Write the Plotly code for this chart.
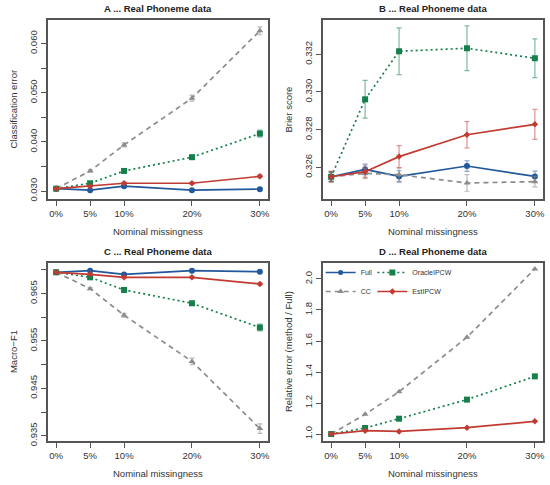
import plotly.graph_objects as go
from plotly.subplots import make_subplots

# nominal missingness levels (%)
miss = [0, 5, 10, 20, 30]
miss_labels = ["0%", "5%", "10%", "20%", "30%"]

methods = ["Full", "CC", "OracleIPCW", "EstIPCW"]

# A: classification error
err_full = [0.0305, 0.0302, 0.0310, 0.0302, 0.0304]
err_cc = [0.0305, 0.0341, 0.0394, 0.0489, 0.0626]
err_oracle = [0.0305, 0.0316, 0.0341, 0.0369, 0.0417]
err_est = [0.0305, 0.0310, 0.0316, 0.0316, 0.0330]
err_full_se = [0.0001, 0.0001, 0.0002, 0.0001, 0.0002]
err_cc_se = [0.0001, 0.0002, 0.0004, 0.0006, 0.0008]
err_oracle_se = [0.0001, 0.0002, 0.0003, 0.0004, 0.0007]
err_est_se = [0.0001, 0.0001, 0.0002, 0.0002, 0.0003]

# B: Brier score
bri_full = [0.32550, 0.32589, 0.32552, 0.32607, 0.32552]
bri_cc = [0.32550, 0.32568, 0.32561, 0.32517, 0.32524]
bri_oracle = [0.32550, 0.32961, 0.33216, 0.33232, 0.33179]
bri_est = [0.32550, 0.32577, 0.32657, 0.32773, 0.32828]
bri_full_se = [0.00025, 0.00028, 0.00030, 0.00028, 0.00028]
bri_cc_se = [0.00025, 0.00028, 0.00035, 0.00044, 0.00028]
bri_oracle_se = [0.00025, 0.00100, 0.00124, 0.00119, 0.00103]
bri_est_se = [0.00030, 0.00030, 0.00058, 0.00070, 0.00080]

# C: Macro-F1
f1_full = [0.96949, 0.96984, 0.96906, 0.96984, 0.96963]
f1_cc = [0.96950, 0.96605, 0.96044, 0.95068, 0.93651]
f1_oracle = [0.96950, 0.96844, 0.96577, 0.96296, 0.95784]
f1_est = [0.96950, 0.96907, 0.96844, 0.96844, 0.96704]
f1_full_se = [0.0001, 0.0001, 0.0001, 0.0001, 0.0001]
f1_cc_se = [0.0001, 0.0002, 0.0004, 0.0007, 0.0010]
f1_oracle_se = [0.0001, 0.0001, 0.0002, 0.0004, 0.0007]
f1_est_se = [0.0001, 0.0001, 0.0001, 0.0001, 0.0002]

# D: relative error (method / Full)
rel_cc = [1.000, 1.127, 1.273, 1.624, 2.065]
rel_oracle = [1.000, 1.039, 1.099, 1.222, 1.372]
rel_est = [1.000, 1.022, 1.017, 1.041, 1.082]
rel_ref = 1.0

colors = {"Full": "#22589c", "CC": "#8c8c8c", "OracleIPCW": "#16804c", "EstIPCW": "#c23b32"}
err_colors = {"Full": "rgba(34,88,156,0.55)", "CC": "rgba(140,140,140,0.6)",
              "OracleIPCW": "rgba(22,128,76,0.55)", "EstIPCW": "rgba(194,59,50,0.55)"}
dashes = {"Full": "solid", "CC": "5px,4px", "OracleIPCW": "2px,3px", "EstIPCW": "solid"}
symbols = {"Full": "circle", "CC": "triangle-up", "OracleIPCW": "square", "EstIPCW": "diamond"}
msizes = {"Full": 6, "CC": 6, "OracleIPCW": 6, "EstIPCW": 5}

FONT = "Liberation Sans, Arial, sans-serif"

fig = make_subplots(rows=2, cols=2, horizontal_spacing=0.1, vertical_spacing=0.13)


def add_series(name, y, se, row, col, legend=None):
    fig.add_trace(go.Scatter(
        x=miss, y=y, mode="lines+markers", name=name,
        line=dict(color=colors[name], width=1.7, dash=dashes[name]),
        marker=dict(color=colors[name], symbol=symbols[name], size=msizes[name]),
        error_y=dict(type="data", array=se, visible=se is not None, color=err_colors[name],
                     thickness=1.2, width=2.5),
        showlegend=legend is not None, legend=legend or "legend",
    ), row=row, col=col)


add_series("Full", err_full, err_full_se, 1, 1)
add_series("CC", err_cc, err_cc_se, 1, 1)
add_series("OracleIPCW", err_oracle, err_oracle_se, 1, 1)
add_series("EstIPCW", err_est, err_est_se, 1, 1)

add_series("Full", bri_full, bri_full_se, 1, 2)
add_series("CC", bri_cc, bri_cc_se, 1, 2)
add_series("OracleIPCW", bri_oracle, bri_oracle_se, 1, 2)
add_series("EstIPCW", bri_est, bri_est_se, 1, 2)

add_series("Full", f1_full, f1_full_se, 2, 1)
add_series("CC", f1_cc, f1_cc_se, 2, 1)
add_series("OracleIPCW", f1_oracle, f1_oracle_se, 2, 1)
add_series("EstIPCW", f1_est, f1_est_se, 2, 1)

fig.add_hline(y=rel_ref, line=dict(color="#a0a0a0", width=1.5, dash="2px,3px"), row=2, col=2)
# legend-only entry for Full in panel D
fig.add_trace(go.Scatter(x=[None], y=[None], mode="lines+markers", name="Full",
                         line=dict(color=colors["Full"], width=1.6),
                         marker=dict(color=colors["Full"], symbol="circle", size=5),
                         legend="legend"), row=2, col=2)
add_series("CC", rel_cc, None, 2, 2, legend="legend")
add_series("OracleIPCW", rel_oracle, None, 2, 2, legend="legend2")
add_series("EstIPCW", rel_est, None, 2, 2, legend="legend2")

# panel placement (paper fractions)
xdom = {1: [0.0873, 0.4873], 2: [0.5873, 0.9873]}
ydom = {1: [0.5897, 0.9588], 2: [0.0907, 0.4577]}

yaxes = {
    (1, 1): dict(range=[0.0284, 0.0648], tickvals=[0.030, 0.035, 0.040, 0.045, 0.050, 0.055, 0.060],
                 ticktext=["0.030", "", "0.040", "", "0.050", "", "0.060"]),
    (1, 2): dict(range=[0.32432, 0.33382], tickvals=[0.326, 0.328, 0.330, 0.332],
                 ticktext=["0.326", "0.328", "0.330", "0.332"]),
    (2, 1): dict(range=[0.93388, 0.97146], tickvals=[0.935, 0.940, 0.945, 0.950, 0.955, 0.960, 0.965, 0.970],
                 ticktext=["0.935", "", "0.945", "", "0.955", "", "0.965", ""]),
    (2, 2): dict(range=[0.955, 2.103], tickvals=[1.0, 1.2, 1.4, 1.6, 1.8, 2.0],
                 ticktext=["1.0", "1.2", "1.4", "1.6", "1.8", "2.0"]),
}

axis_style = dict(showline=True, linecolor="#555555", linewidth=1.5, mirror=True, ticks="outside",
                  ticklen=5, tickcolor="#555555", tickwidth=1, showgrid=False, zeroline=False,
                  tickfont=dict(size=9.5, color="#333333", family=FONT))

for (r, c), ya in yaxes.items():
    fig.update_xaxes(domain=xdom[c], range=[-1.2, 31.2], tickvals=miss, ticktext=miss_labels,
                     tickangle=0, row=r, col=c, **axis_style)
    fig.update_yaxes(domain=ydom[r], tickangle=-90, row=r, col=c, **axis_style, **ya)

titles = ["A ... Real Phoneme data", "B ... Real Phoneme data",
          "C ... Real Phoneme data", "D ... Real Phoneme data"]
ylabels = ["Classification error", "Brier score", "Macro\u2212F1", "Relative error (method / Full)"]
ann = []
for i, (r, c) in enumerate([(1, 1), (1, 2), (2, 1), (2, 2)]):
    xc = sum(xdom[c]) / 2
    common = dict(xref="paper", yref="paper", xanchor="center", yanchor="middle", showarrow=False)
    ann.append(dict(text="<b>" + titles[i] + "</b>", x=xc, y=ydom[r][1] + 0.0247,
                    font=dict(size=9.5, color="#222222", family=FONT), **common))
    ann.append(dict(text="Nominal missingness", x=xc, y=ydom[r][0] - 0.0668,
                    font=dict(size=9.5, color="#333333", family=FONT), **common))
    ann.append(dict(text=ylabels[i], x=xdom[c][0] - 0.0636, y=sum(ydom[r]) / 2, textangle=-90,
                    font=dict(size=9.5, color="#333333", family=FONT), **common))

legend_style = dict(xanchor="left", yanchor="top", bgcolor="rgba(0,0,0,0)",
                    font=dict(size=7, family=FONT), itemwidth=30, tracegroupgap=0)
fig.update_layout(
    width=550, height=485,
    margin=dict(l=0, r=0, t=0, b=0, autoexpand=False),
    paper_bgcolor="white", plot_bgcolor="white",
    font=dict(family=FONT, color="#333333"),
    annotations=ann,
    legend=dict(x=0.583, y=0.468, **legend_style),
    legend2=dict(x=0.677, y=0.468, **legend_style),
)

fig.write_html("out.html", config={"displayModeBar": False},
               post_script="document.body.style.margin = '0px';")
